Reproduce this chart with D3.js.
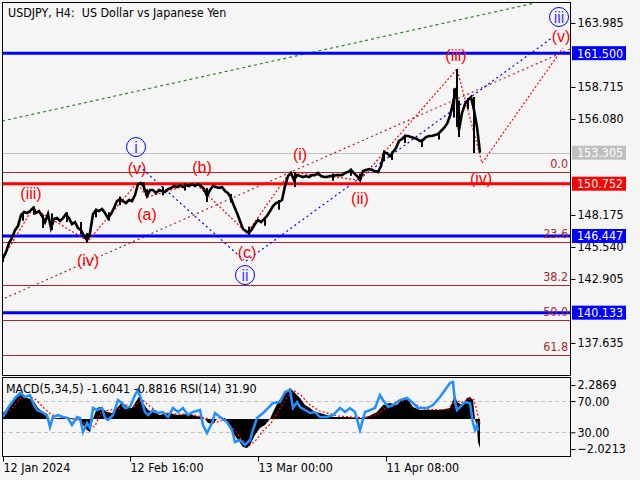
<!DOCTYPE html>
<html><head><meta charset="utf-8">
<script src="https://cdn.jsdelivr.net/npm/d3@7"></script>
<style>
html,body{margin:0;padding:0;background:#f5f5f5;}
svg{display:block;}
text{font-family:"DejaVu Sans Condensed","DejaVu Sans",sans-serif;font-size:12.4px;}
.wave{font-family:"Liberation Sans",Arial,sans-serif;font-size:16px;}
</style></head><body>
<svg id="c" width="640" height="480"></svg>
<script>
// ---------------- DATA ----------------
const title = "USDJPY, H4:  US Dollar vs Japanese Yen";
const indicatorTitle = "MACD(5,34,5) -1.6041 -0.8816 RSI(14) 31.90";
const barStep = 3; // closes sampled every 3 H4 bars
const closes = [
144.63,145.12,145.86,146.28,146.93,147.26,148.17,148.42,148.34,148.50,
148.75,148.34,148.50,148.09,147.59,148.26,147.10,147.84,147.92,147.68,
147.92,148.26,147.92,147.43,147.59,147.10,146.93,146.44,146.11,146.69,
148.26,148.58,148.50,148.67,148.34,147.92,148.26,148.75,149.32,149.49,
149.32,149.16,149.41,149.32,149.82,150.72,150.81,150.48,149.74,150.23,
150.23,149.98,150.23,150.15,150.07,150.31,150.40,150.56,150.48,150.64,
150.48,150.64,150.56,150.72,150.56,150.72,150.56,150.31,149.74,150.23,
150.56,150.48,150.40,150.48,150.15,149.98,149.57,148.91,148.34,147.68,
147.02,146.85,146.69,147.02,147.43,147.76,147.59,147.84,148.09,148.50,
148.91,149.16,149.24,149.41,150.56,151.38,151.63,151.05,151.46,151.38,
151.30,151.38,151.30,151.46,151.46,151.63,151.38,151.30,151.30,151.38,
151.38,151.46,151.46,151.46,151.63,151.71,151.88,151.63,151.38,151.05,
151.79,151.88,151.96,151.88,151.79,151.71,152.21,153.28,153.28,153.03,
153.36,153.69,154.27,154.43,154.68,154.68,154.59,154.51,154.43,154.27,
154.35,154.59,154.68,154.68,154.76,154.84,155.09,155.34,155.67,156.33,
157.40,158.63,155.17,156.57,157.31,157.64,157.89,156.82,155.42,153.31];
// [bar, high, low]
const wicks = [[0,144.80,144.30],[20,148.30,147.70],[31,148.90,148.20],[40,148.20,147.10],[49,148.30,146.93],
[64,148.40,147.60],[78,147.60,146.60],[84,146.70,145.94],[93,148.70,148.00],[106,148.40,147.70],
[117,149.70,149.00],[141,150.90,150.20],[144,150.30,149.65],[160,150.50,149.80],[182,150.80,150.20],
[204,150.40,149.24],[228,149.90,149.20],[246,147.20,146.50],[262,148.00,147.30],[276,149.40,148.60],
[292,151.70,150.48],[330,151.60,151.00],[348,152.00,151.40],[357,151.60,150.97],[381,153.50,152.60],
[389,153.40,152.70],[402,154.80,154.10],[419,154.40,153.77],[436,155.00,154.40],
[451,158.60,156.20],[454,160.20,155.42],[456,157.60,154.59],[465,157.80,156.90],[471,157.89,153.28]];

const priceTicks = [163.985,158.715,156.080,148.175,145.540,142.905,137.635];
const blueLevels = [161.500,146.447,140.133];
const redLevels = [150.752];
const bidPrice = 153.305;
const fibLevels = [0,23.6,38.2,50.0,61.8];
const fibStart = 151.71, fibEnd = 127.33;

const timeTickBars = [0,127,255,383];
const timeTickLabels = ["12 Jan 2024","12 Feb 16:00","13 Mar 00:00","11 Apr 08:00"];

// wave connector polyline [bar, price]
const wavePath = [[0,144.63],[30,148.75],[85,146.03],[134,150.81],[144,149.65],[192,150.81],
[244,146.69],[287,151.71],[357,151.05],[454,160.20],[479,152.45],[560,161.93]];
const greenTrend = [[-1,155.91],[532,165.63]];
const brownTrend = [[2,141.33],[567,161.84]];
const blueTrend1 = [[136,152.21],[241,144.46]];
const blueTrend2 = [[243,144.38],[550,162.83]];

const redWaveLabels = [["(iii)",28,149.90],["(iv)",85,144.38],["(v)",134,151.96],["(a)",144,148.17],
["(b)",199,152.04],["(c)",244,145.04],["(i)",297,153.11],["(ii)",357,149.49],
["(iii)",453,161.27],["(iv)",478,151.14],["(v)",558,162.83]];
const blueWaveLabels = [["i",133,153.77],["ii",242,143.23],["iii",556,164.48]];

// MACD histogram [bar, value]
const macdHist = [[0,0.40],[7,0.94],[14,1.48],[19,1.75],[24,1.41],[30,1.28],[35,0.74],[40,0.47],[44,0.13],
[47,0],[55,0.07],[65,0.07],[75,0],[80,-0.40],[84,-0.74],[87,-0.88],[90,0],[94,0.74],[97,0.81],[104,0.47],
[109,0.40],[114,0.74],[119,1.14],[124,0.81],[129,0.74],[134,1.28],[137,1.62],[140,1.08],[145,0.61],
[150,0.47],[157,0.27],[164,0.40],[175,0.27],[185,0.34],[197,0.13],[202,0],[205,-0.27],[210,-0.34],
[214,0],[222,0.07],[227,-0.40],[230,-0.94],[235,-1.41],[240,-1.88],[244,-1.95],[247,-1.75],[252,-1.08],
[257,-0.61],[262,-0.40],[267,0],[270,0.47],[275,1.14],[280,1.62],[287,2.09],[292,1.75],[297,1.41],
[302,0.94],[307,0.74],[312,0.47],[317,0.40],[330,0.13],[344,0.13],[357,0.07],[364,0.13],[374,0.47],
[380,0.94],[387,1.08],[394,0.94],[400,1.41],[405,1.28],[410,0.81],[417,0.61],[427,0.61],[437,0.61],
[447,0.74],[450,1.28],[452,1.62],[454,1.14],[459,0.94],[464,1.41],[467,1.48],[470,1.28],[472,0],
[474,-0.61],[475,-1.55],[477,-1.95]];
const macdSignal = [[0,0.2],[10,0.8],[18,1.4],[25,1.55],[32,1.35],[40,0.8],[48,0.3],[60,0.1],[78,-0.1],
[86,-0.6],[92,-0.5],[98,0.5],[106,0.6],[116,0.7],[123,0.95],[131,0.85],[139,1.3],[146,0.9],[155,0.45],
[170,0.35],[190,0.3],[205,0.0],[212,-0.25],[222,-0.05],[230,-0.6],[238,-1.3],[246,-1.8],[252,-1.5],
[260,-0.8],[268,-0.3],[276,0.6],[284,1.5],[291,1.9],[298,1.6],[306,1.0],[316,0.55],[335,0.2],[360,0.08],
[376,0.35],[384,0.8],[392,1.0],[404,1.3],[412,1.0],[422,0.65],[445,0.62],[452,1.3],[458,1.1],[466,1.35],
[471,1.3],[474,0.5],[477,-0.3]];
const rsi = [[0,49.6],[5,61.1],[12,73.9],[17,80.3],[22,75.1],[27,77.7],[30,67.5],[34,58.5],[39,56.0],
[44,52.1],[47,36.8],[50,49.6],[55,52.1],[60,49.6],[65,48.3],[69,39.4],[74,49.6],[77,48.3],[80,30.4],
[84,41.9],[87,35.5],[90,61.1],[94,58.5],[99,61.1],[102,48.3],[105,45.8],[110,52.1],[115,71.3],[119,67.5],
[122,61.1],[127,62.4],[132,77.7],[135,84.1],[139,68.8],[142,56.0],[145,52.1],[150,58.5],[155,54.7],
[160,56.0],[165,49.6],[170,61.1],[175,56.0],[180,61.1],[185,52.1],[190,56.0],[197,58.5],[200,39.4],
[204,29.1],[209,41.9],[212,54.7],[217,49.6],[224,43.2],[229,33.0],[232,17.6],[237,20.2],[242,13.8],
[247,20.2],[250,33.0],[254,48.3],[260,54.7],[265,61.1],[270,67.5],[277,68.8],[282,81.5],[287,84.1],
[290,61.1],[294,68.8],[297,62.4],[302,58.5],[307,54.7],[312,56.0],[317,49.6],[324,49.6],[330,52.1],
[337,61.1],[342,56.0],[347,61.1],[352,56.0],[357,33.0],[362,56.0],[367,58.5],[372,61.1],[377,77.7],
[380,71.3],[385,62.4],[390,64.9],[397,71.3],[404,73.9],[410,67.5],[415,61.1],[424,61.1],[430,64.9],
[437,75.1],[442,84.1],[447,93.0],[450,94.3],[452,68.8],[454,58.5],[457,62.4],[462,68.8],[467,67.5],
[470,41.9],[472,33.0],[474,39.4],[475,31.9]];
const macdMax = 2.2869, macdMin = -2.0213;
const rsiLevels = [70,30];

// ---------------- LAYOUT ----------------
const L = 2, R = 570, T = 2, B = 375, MT = 377, MB = 456;
const svg = d3.select("#c");
svg.append("rect").attr("width",640).attr("height",480).attr("fill","#f5f5f5");

const x = d3.scaleLinear().domain([0,477]).range([3,480]);
const y = d3.scaleLinear().domain([137.635,163.985]).range([343,23]);
const yM = d3.scaleLinear().domain([macdMin,macdMax]).range([449,385]);
const yR = d3.scaleLinear().domain([0,100]).range([455.8,377.6]);

const defs = svg.append("defs");
defs.append("clipPath").attr("id","mainClip").append("rect").attr("x",L).attr("y",T).attr("width",R-L).attr("height",B-T);
defs.append("clipPath").attr("id","subClip").append("rect").attr("x",L).attr("y",MT).attr("width",R-L).attr("height",MB-MT);

const main = svg.append("g").attr("clip-path","url(#mainClip)");

// fib lines
const fibPrice = l => fibStart + (fibEnd - fibStart) * l / 100;
main.selectAll(".fib").data(fibLevels).join("line")
  .attr("x1",L).attr("x2",R).attr("y1",d=>Math.round(y(fibPrice(d)))+0.5).attr("y2",d=>Math.round(y(fibPrice(d)))+0.5)
  .attr("stroke","#a52a2a").attr("stroke-width",1);
// bid line
main.append("line").attr("x1",L).attr("x2",R).attr("y1",Math.round(y(bidPrice))+0.5).attr("y2",Math.round(y(bidPrice))+0.5)
  .attr("stroke","#c0c0c0").attr("stroke-width",1);
// trend lines
const lineGen = d3.line().x(d=>x(d[0])).y(d=>y(d[1]));
main.append("path").attr("d",lineGen(greenTrend)).attr("fill","none").attr("stroke","#228b22").attr("stroke-width",1.2).attr("stroke-dasharray","3,3");
main.append("path").attr("d",lineGen(brownTrend)).attr("fill","none").attr("stroke","#a52a2a").attr("stroke-width",1.2).attr("stroke-dasharray","2,3");
[blueTrend1,blueTrend2].forEach(t=>main.append("path").attr("d",lineGen(t)).attr("fill","none").attr("stroke","#0000ff").attr("stroke-width",1.2).attr("stroke-dasharray","2,3"));
// level lines
main.selectAll(".blv").data(blueLevels).join("line").attr("x1",L).attr("x2",R)
  .attr("y1",d=>y(d)).attr("y2",d=>y(d)).attr("stroke","#0000ff").attr("stroke-width",3);
main.selectAll(".rlv").data(redLevels).join("line").attr("x1",L).attr("x2",R)
  .attr("y1",d=>y(d)).attr("y2",d=>y(d)).attr("stroke","#ff0000").attr("stroke-width",3);
// wave connectors
main.append("path").attr("d",lineGen(wavePath)).attr("fill","none").attr("stroke","#ff0000").attr("stroke-width",1.2).attr("stroke-dasharray","2,2");

// price
main.append("path").attr("d",d3.line().x((d,i)=>x(i*barStep)).y(d=>y(d))(closes))
  .attr("fill","none").attr("stroke","#000").attr("stroke-width",2.6).attr("stroke-linejoin","miter");
main.selectAll(".wick").data(wicks).join("line")
  .attr("x1",d=>x(d[0])).attr("x2",d=>x(d[0])).attr("y1",d=>y(d[1])).attr("y2",d=>y(d[2]))
  .attr("stroke","#000").attr("stroke-width",2);

// fib labels
main.selectAll(".fibt").data(fibLevels).join("text")
  .attr("x",R-2).attr("y",d=>Math.round(y(fibPrice(d)))-4).attr("text-anchor","end")
  .attr("fill","#a52a2a").text(d=>d.toFixed(1));

// wave labels
main.selectAll(".rw").data(redWaveLabels).join("text").attr("class","wave")
  .attr("x",d=>x(d[1])).attr("y",d=>y(d[2])).attr("dy","0.3em").attr("text-anchor","middle")
  .attr("fill","#ff0000").text(d=>d[0]);
const bw = main.selectAll(".bw").data(blueWaveLabels).join("g").attr("transform",d=>`translate(${x(d[1])},${y(d[2])})`);
bw.append("circle").attr("r",9.5).attr("fill","none").attr("stroke","#0000ff").attr("stroke-width",1);
bw.append("text").attr("class","wave").attr("text-anchor","middle").attr("dy","0.36em").attr("fill","#4b3cff").text(d=>d[0]);

// title
svg.append("text").attr("x",8).attr("y",17).attr("fill","#000").style("white-space","pre").text(title);

// ---------------- INDICATOR PANEL ----------------
const sub = svg.append("g").attr("clip-path","url(#subClip)");
sub.selectAll(".rl").data(rsiLevels).join("line").attr("x1",L).attr("x2",R)
  .attr("y1",d=>Math.round(yR(d))+0.5).attr("y2",d=>Math.round(yR(d))+0.5)
  .attr("stroke","#c0c0c0").attr("stroke-dasharray","4,3");
sub.append("path").attr("d",d3.area().x(d=>x(d[0])).y0(yM(0)).y1(d=>yM(d[1]))(macdHist)).attr("fill","#000");
sub.append("path").attr("d",d3.line().x(d=>x(d[0])).y(d=>yM(d[1]))(macdSignal)).attr("fill","none")
  .attr("stroke","#ff0000").attr("stroke-width",1.2).attr("stroke-dasharray","2,2");
sub.append("path").attr("d",d3.line().x(d=>x(d[0])).y(d=>yR(d[1]))(rsi)).attr("fill","none")
  .attr("stroke","#1e90ff").attr("stroke-width",2.5);
svg.append("text").attr("x",6).attr("y",393).attr("fill","#000").text(indicatorTitle);

// frames
svg.append("rect").attr("x",L+0.5).attr("y",T+0.5).attr("width",R-L).attr("height",B-T).attr("fill","none").attr("stroke","#000");
svg.append("rect").attr("x",L+0.5).attr("y",MT+0.5).attr("width",R-L).attr("height",MB-MT).attr("fill","none").attr("stroke","#000");

// ---------------- AXES ----------------
function styleAxis(g){ g.select(".domain").remove(); g.selectAll("line").attr("stroke","#000"); g.selectAll("text").attr("fill","#000").attr("font-family",null).attr("font-size",null); }
const ax = svg.append("g").attr("transform",`translate(${R+0.5},0)`)
  .call(d3.axisRight(y).tickValues(priceTicks).tickSize(5).tickPadding(2).tickFormat(d3.format(".3f")));
styleAxis(ax);
// boxed labels
const boxes = [].concat(blueLevels.map(v=>[v,"#0000ff"]), redLevels.map(v=>[v,"#ff0000"]), [[bidPrice,"#c0c0c0"]]);
const bx = svg.selectAll(".box").data(boxes).join("g").attr("transform",d=>`translate(572,${y(d[0])})`);
bx.append("rect").attr("x",0).attr("y",-7).attr("width",54).attr("height",14).attr("fill",d=>d[1]);
bx.append("text").attr("x",5).attr("dy","0.36em").attr("fill","#fff").text(d=>d[0].toFixed(3));

const axM = svg.append("g").attr("transform",`translate(${R+0.5},0)`)
  .call(d3.axisRight(yM).tickValues([macdMax,macdMin]).tickSize(5).tickPadding(2).tickFormat(d3.format(".4f")));
styleAxis(axM);
const axR = svg.append("g").attr("transform",`translate(${R+0.5},0)`)
  .call(d3.axisRight(yR).tickValues(rsiLevels).tickSize(5).tickPadding(2).tickFormat(d3.format(".2f")));
styleAxis(axR);

const axB = svg.append("g").attr("transform",`translate(0,${MB+0.5})`)
  .call(d3.axisBottom(x).tickValues(timeTickBars).tickSize(5).tickFormat((d,i)=>timeTickLabels[i]));
styleAxis(axB);
axB.selectAll("text").attr("text-anchor","start").attr("x",0).attr("y",7);
</script></body></html>
